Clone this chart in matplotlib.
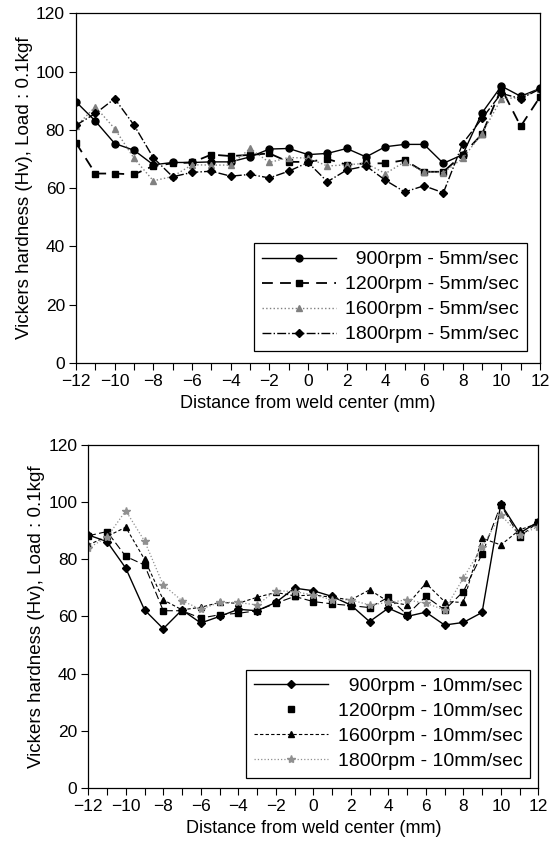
import matplotlib
matplotlib.use("Agg")
from matplotlib import pyplot as plt
from matplotlib.lines import Line2D
import numpy as np

plt.rcParams['font.family'] = ['Liberation Sans', 'DejaVu Sans']

# distance from weld center (mm)
dist = list(range(-12, 13))

# top: 5 mm/sec
hv_900_5 = [89.6, 83, 75.3, 73, 68, 68.8, 68.8, 69, 69, 70.7, 73.4, 73.6, 71.5,
            71.9, 73.6, 70.7, 74.2, 75, 75, 68.5, 71.5, 85.8, 95, 91.5, 94.2]
hv_1200_5 = [75.5, 65, 65, 64.7, 67.6, 68.5, 68.8, 71.5, 71, 71.4, 71.9, 69, 69,
             70, 68, 68.5, 68.5, 69.6, 65.6, 65.6, 71.5, 78.5, 94.2, 81.2, 91.3]
hv_1600_5 = [81.2, 87.9, 80.4, 70.2, 62.5, 64, 68, 67.9, 67.9, 73.6, 68.8, 70.5, 70.3,
             67.6, 68, 68.5, 65, 69, 65.6, 65.3, 70.2, 78.7, 90.7, 91, 94]
hv_1800_5 = [81.6, 85.6, 90.7, 81.6, 70.4, 63.9, 65.4, 65.8, 64.1, 64.7, 63.5, 65.8, 68.8,
             62.2, 66.2, 67.6, 62.7, 58.7, 60.8, 58.4, 75.3, 83.9, 92.5, 90.7, 94]

# bottom: 10 mm/sec
hv_900_10 = [88.5, 86.2, 76.9, 62.3, 55.7, 62.3, 57.7, 60, 62.5, 62, 64.9, 69.9, 69,
             67, 64, 58.2, 62.9, 60, 61.5, 57, 57.9, 61.4, 99.4, 89.1, 93.2]
hv_1200_10 = [88.2, 89.7, 81, 78, 62, 62, 59.4, 60.6, 61.1, 62, 64.6, 67, 65.2,
              64.4, 63.8, 63.1, 66.7, 60.6, 67, 62.3, 68.7, 81.8, 99, 87.9, 93]
hv_1600_10 = [85, 88, 91.2, 80, 65.8, 62.3, 63.2, 64.9, 64.6, 66.7, 68.4, 67.2, 67.5,
              66.7, 65.8, 69.3, 65.2, 64, 71.6, 65.2, 64.9, 87.4, 85, 90.3, 92.6]
hv_1800_10 = [83.9, 87.7, 97, 86.4, 71, 65.5, 62.5, 64.9, 64.9, 64, 69, 68.7, 67.5,
              65.8, 65.8, 64, 64.9, 65.8, 64.6, 62.3, 73.4, 84.4, 95.5, 88.5, 91.4]

labels_5 = ["  900rpm - 5mm/sec", "1200rpm - 5mm/sec", "1600rpm - 5mm/sec", "1800rpm - 5mm/sec"]
labels_10 = ["  900rpm - 10mm/sec", "1200rpm - 10mm/sec", "1600rpm - 10mm/sec", "1800rpm - 10mm/sec"]

fig = plt.figure(figsize=(5.55, 8.47), dpi=100)
ax1 = fig.add_axes([0.137, 0.5714, 0.836, 0.413])
ax2 = fig.add_axes([0.159, 0.0697, 0.811, 0.405])


def style_axes(ax):
    ax.set_xlim(-12, 12)
    ax.set_ylim(0, 120)
    ax.set_xticks(range(-12, 13, 2))
    ax.set_xticks(range(-12, 13), minor=True)
    ax.set_yticks(range(0, 121, 20))
    ax.tick_params(which='both', direction='out', length=5, width=0.8, labelsize=12.5, pad=3)
    ax.set_xticklabels([str(v).replace('-', '\u2212') for v in range(-12, 13, 2)])
    ax.set_xlabel("Distance from weld center (mm)", fontsize=13, labelpad=4)
    ax.set_ylabel("Vickers hardness (Hv), Load : 0.1kgf", fontsize=13.5, labelpad=2)
    for s in ax.spines.values():
        s.set_linewidth(0.9)


leg_kw = dict(loc='lower right', fontsize=14, frameon=True, fancybox=False, framealpha=1,
              edgecolor='black', handlelength=3.8, labelspacing=0.38, borderpad=0.4,
              handletextpad=0.5, borderaxespad=0)

# top chart
ax1.plot(dist, hv_900_5, '-', color='black', lw=1, marker='o', ms=5, label=labels_5[0])
ax1.plot(dist, hv_1200_5, color='black', lw=1.3, ls=(0, (6, 4)), marker='s', ms=5, label=labels_5[1])
ax1.plot(dist, hv_1600_5, color='gray', lw=1, ls=':', marker='^', ms=5, label=labels_5[2])
ax1.plot(dist, hv_1800_5, color='black', lw=1, ls='-.', marker='D', ms=4, label=labels_5[3])
style_axes(ax1)
leg1 = ax1.legend(bbox_to_anchor=(0.972, 0.034), **leg_kw)
leg1.get_frame().set_linewidth(0.9)

# bottom chart
ax2.plot(dist, hv_900_10, '-', color='black', lw=1, marker='D', ms=4)
ax2.plot(dist, hv_1200_10, color='black', lw=0.8, ls=(0, (7, 3)), marker='s', ms=5)
ax2.plot(dist, hv_1600_10, color='black', lw=0.8, ls=(0, (3, 2)), marker='^', ms=5)
ax2.plot(dist, hv_1800_10, color='#909090', lw=0.9, ls=':', marker='*', ms=6)
style_axes(ax2)
handles = [
    Line2D([], [], color='black', lw=1, ls='-', marker='D', ms=4),
    Line2D([], [], color='black', ls='none', marker='s', ms=5),
    Line2D([], [], color='black', lw=0.8, ls=(0, (3, 2)), marker='^', ms=5),
    Line2D([], [], color='#909090', lw=0.9, ls=':', marker='*', ms=6),
]
leg2 = ax2.legend(handles, labels_10, bbox_to_anchor=(0.982, 0.029), **leg_kw)
leg2.get_frame().set_linewidth(0.9)

fig.savefig("out.png", dpi=100)
